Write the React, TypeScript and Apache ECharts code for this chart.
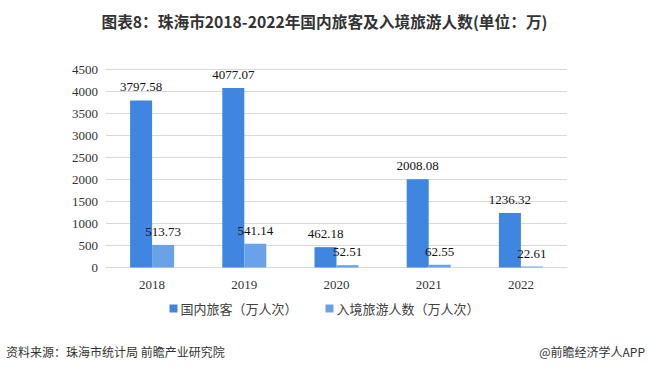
import React, { useEffect, useRef } from "react";
import * as echarts from "echarts";

const categories = ["2018", "2019", "2020", "2021", "2022"];
const domesticTourists = [3797.58, 4077.07, 462.18, 2008.08, 1236.32];
const inboundTourists = [513.73, 541.14, 52.51, 62.55, 22.61];
const seriesNames = ["国内旅客（万人次）", "入境旅游人数（万人次）"];
const title = "图表8：珠海市2018-2022年国内旅客及入境旅游人数(单位：万)";
const sourceText = "资料来源：珠海市统计局 前瞻产业研究院";
const brandText = "@前瞻经济学人APP";

export default function App() {
  const ref = useRef<HTMLDivElement>(null);
  useEffect(() => {
    if (!ref.current) return;
    const chart = echarts.init(ref.current, undefined, { renderer: "svg" });
    const serif = "'Liberation Serif', 'Times New Roman', serif";
    const sans = "'Noto Sans CJK SC', 'Noto Sans', sans-serif";
    const labelStyle = {
      show: true,
      position: "top" as const,
      distance: 7,
      fontFamily: serif,
      fontSize: 13,
      color: "#111",
      formatter: (p: any) => p.value.toFixed(2),
    };
    chart.setOption({
      animation: false,
      backgroundColor: "#fff",
      title: {
        text: title,
        left: "center",
        top: 9,
        textStyle: { fontFamily: sans, fontSize: 15.7, fontWeight: "bold", color: "#333" },
      },
      grid: { left: 106, right: 82, top: 69.5, bottom: 108.5 },
      legend: {
        bottom: 56,
        left: "center",
        itemWidth: 8,
        itemHeight: 8,
        itemGap: 28,
        icon: "rect",
        textStyle: { fontFamily: sans, fontSize: 13, color: "#404040", padding: [0, 0, 0, -2] },
        data: seriesNames,
      },
      xAxis: {
        type: "category",
        data: categories,
        axisTick: { show: false },
        axisLine: { lineStyle: { color: "#d9d9d9" } },
        axisLabel: { fontFamily: serif, fontSize: 13, color: "#333", margin: 10 },
      },
      yAxis: {
        type: "value",
        min: 0,
        max: 4500,
        interval: 500,
        axisLine: { show: false },
        axisTick: { show: false },
        splitLine: { lineStyle: { color: "#d9d9d9" } },
        axisLabel: {
          fontFamily: serif,
          fontSize: 13,
          color: "#333",
          margin: 8,
          formatter: (v: number) => String(v),
        },
      },
      series: [
        {
          name: seriesNames[0],
          type: "bar",
          data: domesticTourists,
          barWidth: 22,
          barGap: "0%",
          itemStyle: { color: "#4085E0" },
          label: labelStyle,
        },
        {
          name: seriesNames[1],
          type: "bar",
          data: inboundTourists,
          barWidth: 22,
          itemStyle: { color: "#6AA2EA" },
          label: labelStyle,
        },
      ],
      graphic: [
        {
          type: "text",
          left: 6,
          top: 345,
          style: { text: sourceText, fontFamily: sans, fontSize: 12, fill: "#333" },
        },
        {
          type: "text",
          right: 4,
          top: 345,
          style: { text: brandText, fontFamily: sans, fontSize: 12, fill: "#333" },
        },
      ],
    });
    return () => chart.dispose();
  }, []);
  return <div ref={ref} style={{ width: 649, height: 376, position: "fixed", left: 0, top: 0 }} />;
}
